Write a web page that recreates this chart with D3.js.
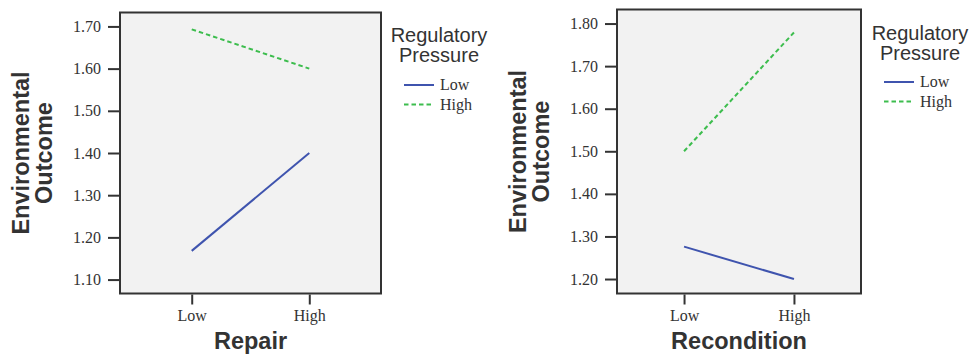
<!DOCTYPE html>
<html lang="en">
<head>
<meta charset="UTF-8">
<title>Environmental Outcome interaction plots</title>
<script src="https://cdn.jsdelivr.net/npm/d3@7"></script>
<style>
  body { margin: 0; background: #fff; }
</style>
</head>
<body>
<script>
    // data
    const levels = ["Low", "High"];
    const pressureNames = ["Low", "High"];

    const repairLow = [1.168, 1.400];
    const repairHigh = [1.693, 1.600];
    const repairTicks = [1.10, 1.20, 1.30, 1.40, 1.50, 1.60, 1.70];

    const reconLow = [1.276, 1.200];
    const reconHigh = [1.500, 1.779];
    const reconTicks = [1.20, 1.30, 1.40, 1.50, 1.60, 1.70, 1.80];

    const lineColor = {"Low": "#3f54ae", "High": "#3dbd4e"};
    const lineDash = {"Low": null, "High": "4.5,3"};

    let svg = d3.select('body').append('svg')
        .attr('width', 971)
        .attr('height', 355);

    function panel(opt) {
        let g = svg.append('g');
        let x = d3.scalePoint().domain(levels).range([opt.x0, opt.x1]).padding(0.61);
        let y = d3.scaleLinear().domain(opt.domain).range([opt.y1, opt.y0]);

        g.append('rect')
            .attr('x', opt.x0).attr('y', opt.y0)
            .attr('width', opt.x1 - opt.x0).attr('height', opt.y1 - opt.y0)
            .attr('fill', '#f2f2f2')
            .attr('stroke', '#333').attr('stroke-width', 2);

        // y axis
        let ya = g.append('g')
            .attr('transform', 'translate(' + (opt.x0 - 1) + ',0)')
            .call(d3.axisLeft(y).tickValues(opt.ticks).tickFormat(d3.format('.2f')).tickSize(11).tickPadding(7));
        ya.select('.domain').remove();
        ya.selectAll('line').attr('stroke', '#333').attr('stroke-width', 2);
        ya.selectAll('text').style('font-family', '"Liberation Serif", serif').style('font-size', '16px').attr('fill', '#333');

        // x axis
        let xa = g.append('g')
            .attr('transform', 'translate(0,' + (opt.y1 + 1) + ')')
            .call(d3.axisBottom(x).tickSize(10).tickPadding(5));
        xa.select('.domain').remove();
        xa.selectAll('line').attr('stroke', '#333').attr('stroke-width', 2);
        xa.selectAll('text').style('font-family', '"Liberation Serif", serif').style('font-size', '16px').attr('fill', '#333');

        // lines
        let line = d3.line().x((d, i) => x(levels[i])).y(d => y(d));
        let series = [{name: "Low", values: opt.low}, {name: "High", values: opt.high}];
        g.selectAll('path.series').data(series).enter()
            .append('path')
            .attr('class', 'series')
            .attr('d', d => line(d.values))
            .attr('fill', 'none')
            .attr('stroke', d => lineColor[d.name])
            .attr('stroke-width', 2)
            .attr('stroke-dasharray', d => lineDash[d.name]);

        // axis titles
        g.append('text')
            .attr('x', (opt.x0 + opt.x1) / 2).attr('y', 349)
            .attr('text-anchor', 'middle')
            .style('font-family', '"Liberation Sans", Arial, sans-serif')
            .style('font-size', '23.5px').style('font-weight', 'bold')
            .attr('fill', '#333')
            .text(opt.xTitle);

        let yt = g.append('text')
            .attr('transform', 'translate(' + opt.yTitleX + ',' + ((opt.y0 + opt.y1) / 2) + ') rotate(-90)')
            .attr('text-anchor', 'middle')
            .style('font-family', '"Liberation Sans", Arial, sans-serif')
            .style('font-size', '23.5px').style('font-weight', 'bold')
            .attr('fill', '#333');
        yt.append('tspan').attr('x', 0).attr('y', 0).text('Environmental');
        yt.append('tspan').attr('x', 0).attr('y', 23).text('Outcome');

        // legend
        let lg = g.append('g');
        lg.append('text')
            .attr('x', opt.legX).attr('y', opt.legY)
            .attr('text-anchor', 'middle')
            .style('font-family', '"Liberation Sans", Arial, sans-serif')
            .style('font-size', '20px')
            .attr('fill', '#333')
            .selectAll('tspan').data(['Regulatory', 'Pressure']).enter()
            .append('tspan')
            .attr('x', opt.legX).attr('dy', (d, i) => i ? 20 : 0)
            .text(d => d);

        let item = lg.selectAll('g.item').data(pressureNames).enter()
            .append('g').attr('class', 'item')
            .attr('transform', (d, i) => 'translate(' + opt.itemX + ',' + (opt.itemY + i * 19.5) + ')');
        item.append('line')
            .attr('x1', 0).attr('x2', 30).attr('y1', 0).attr('y2', 0)
            .attr('stroke', d => lineColor[d])
            .attr('stroke-width', 2)
            .attr('stroke-dasharray', d => lineDash[d]);
        item.append('text')
            .attr('x', 36).attr('y', 5)
            .style('font-family', '"Liberation Serif", serif')
            .style('font-size', '16px')
            .attr('fill', '#333')
            .text(d => d);
    }

    panel({x0: 120, x1: 381, y0: 12.5, y1: 293.5, domain: [1.067, 1.733], ticks: repairTicks,
        low: repairLow, high: repairHigh, xTitle: 'Repair', yTitleX: 29,
        legX: 439, legY: 42, itemX: 404, itemY: 85});

    panel({x0: 617, x1: 861, y0: 9.5, y1: 293.5, domain: [1.166, 1.833], ticks: reconTicks,
        low: reconLow, high: reconHigh, xTitle: 'Recondition', yTitleX: 526,
        legX: 920, legY: 40, itemX: 884, itemY: 82});
</script>
</body>
</html>
